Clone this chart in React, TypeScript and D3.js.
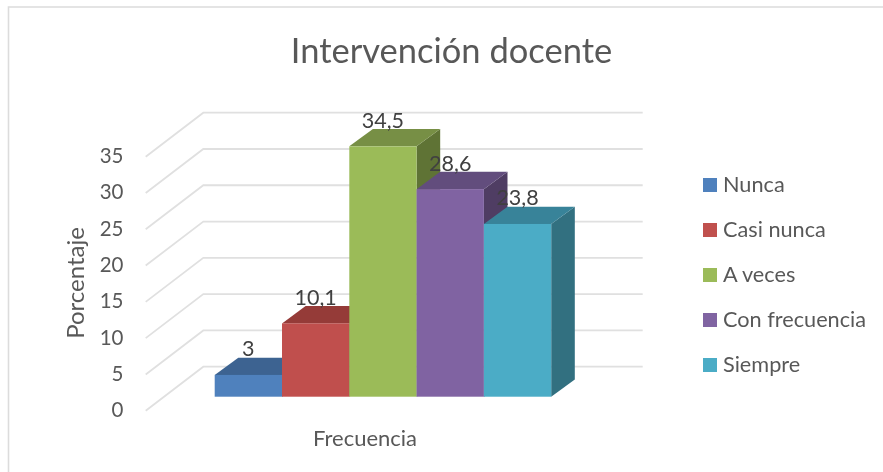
import React from "react";
import * as d3 from "d3";

const title = "Intervención docente";
const categories = ["Nunca", "Casi nunca", "A veces", "Con frecuencia", "Siempre"];
const values = [3, 10.1, 34.5, 28.6, 23.8];
const valueLabels = ["3", "10,1", "34,5", "28,6", "23,8"];
const ticks = [0, 5, 10, 15, 20, 25, 30, 35];
const front = ["#4f81bd", "#c0504d", "#9bbb59", "#8064a2", "#4bacc6"];
const topFace = ["#3d6491", "#953a38", "#778f44", "#624d7d", "#398399"];
const side = ["#2f4d70", "#733030", "#5f7336", "#4f3d64", "#316f80"];
const FONT = "Lato, 'Open Sans', sans-serif";

export default function App() {
  const backY = d3.scaleLinear().domain([0, 35]).range([366.7, 112.7]);
  const barX = d3.scaleBand<string>().domain(categories).range([214.7, 551.2]).padding(0);
  const barH = d3.scaleLinear().domain([0, 35]).range([0, 254]);
  const baseY = 396.7;
  const depth = { x: 23.6, y: 17.3 };
  const floor = { x: 57.6, y: 44 };
  const gridRight = 642.7;
  const backX = 203.3;
  const legendY = d3.scalePoint<string>().domain(categories).range([185, 365]);

  return (
    <svg
      width={883}
      height={472}
      style={{ position: "absolute", left: 0, top: 0, background: "#fff" }}
      fontFamily={FONT}
    >
      <defs>
        <filter id="soft" x="-5%" y="-5%" width="110%" height="110%">
          <feGaussianBlur stdDeviation="0.45" />
        </filter>
        <filter id="softText" x="-5%" y="-5%" width="110%" height="110%">
          <feGaussianBlur stdDeviation="0.3" />
        </filter>
      </defs>
      <path d="M8.5 472V7H883" fill="none" stroke="#dcdcdc" strokeWidth={1.6} />
      <g filter="url(#soft)">
        {ticks.map((t) => (
          <path
            key={t}
            d={`M${backX - floor.x} ${backY(t) + floor.y}L${backX} ${backY(t)}H${gridRight}`}
            fill="none"
            stroke="#e0e0e0"
            strokeWidth={1.8}
          />
        ))}
        {categories.map((c, i) => {
          const x0 = barX(c) as number;
          const w = barX.bandwidth();
          const h = barH(values[i]);
          const top = baseY - h;
          return (
            <g key={c}>
              <path
                d={`M${x0 + w} ${top}l${depth.x} ${-depth.y}V${baseY - depth.y}L${x0 + w} ${baseY}Z`}
                fill={side[i]}
              />
              <path
                d={`M${x0} ${top}l${depth.x} ${-depth.y}H${x0 + w + depth.x}L${x0 + w} ${top}Z`}
                fill={topFace[i]}
              />
              <rect x={x0} y={top} width={w} height={h} fill={front[i]} />
            </g>
          );
        })}
      </g>
      <g filter="url(#softText)">
        {categories.map((c, i) => (
          <text
            key={c}
            x={(barX(c) as number) + barX.bandwidth() / 2}
            y={baseY - barH(values[i]) - 18.5}
            textAnchor="middle"
            fontSize={21.5}
            fill="#404040"
          >
            {valueLabels[i]}
          </text>
        ))}
        <text x={451.5} y={63} textAnchor="middle" fontSize={34.5} fill="#595959">
          {title}
        </text>
        {ticks.map((t) => (
          <text key={t} x={123.5} y={backY(t) + floor.y + 6.5} textAnchor="end" fontSize={20.5} fill="#595959">
            {t}
          </text>
        ))}
        <text
          transform="translate(84,283) rotate(-90)"
          textAnchor="middle"
          fontSize={24}
          fill="#595959"
        >
          Porcentaje
        </text>
        <text x={365} y={446} textAnchor="middle" fontSize={22} fill="#595959">
          Frecuencia
        </text>
        {categories.map((c, i) => {
          const y = legendY(c) as number;
          return (
            <text key={c} x={723} y={y + 7} fontSize={21.7} fill="#595959">
              {c}
            </text>
          );
        })}
      </g>
      {categories.map((c, i) => {
        const y = legendY(c) as number;
        return <rect key={c} x={703} y={y - 7} width={14} height={14} fill={front[i]} />;
      })}
    </svg>
  );
}
